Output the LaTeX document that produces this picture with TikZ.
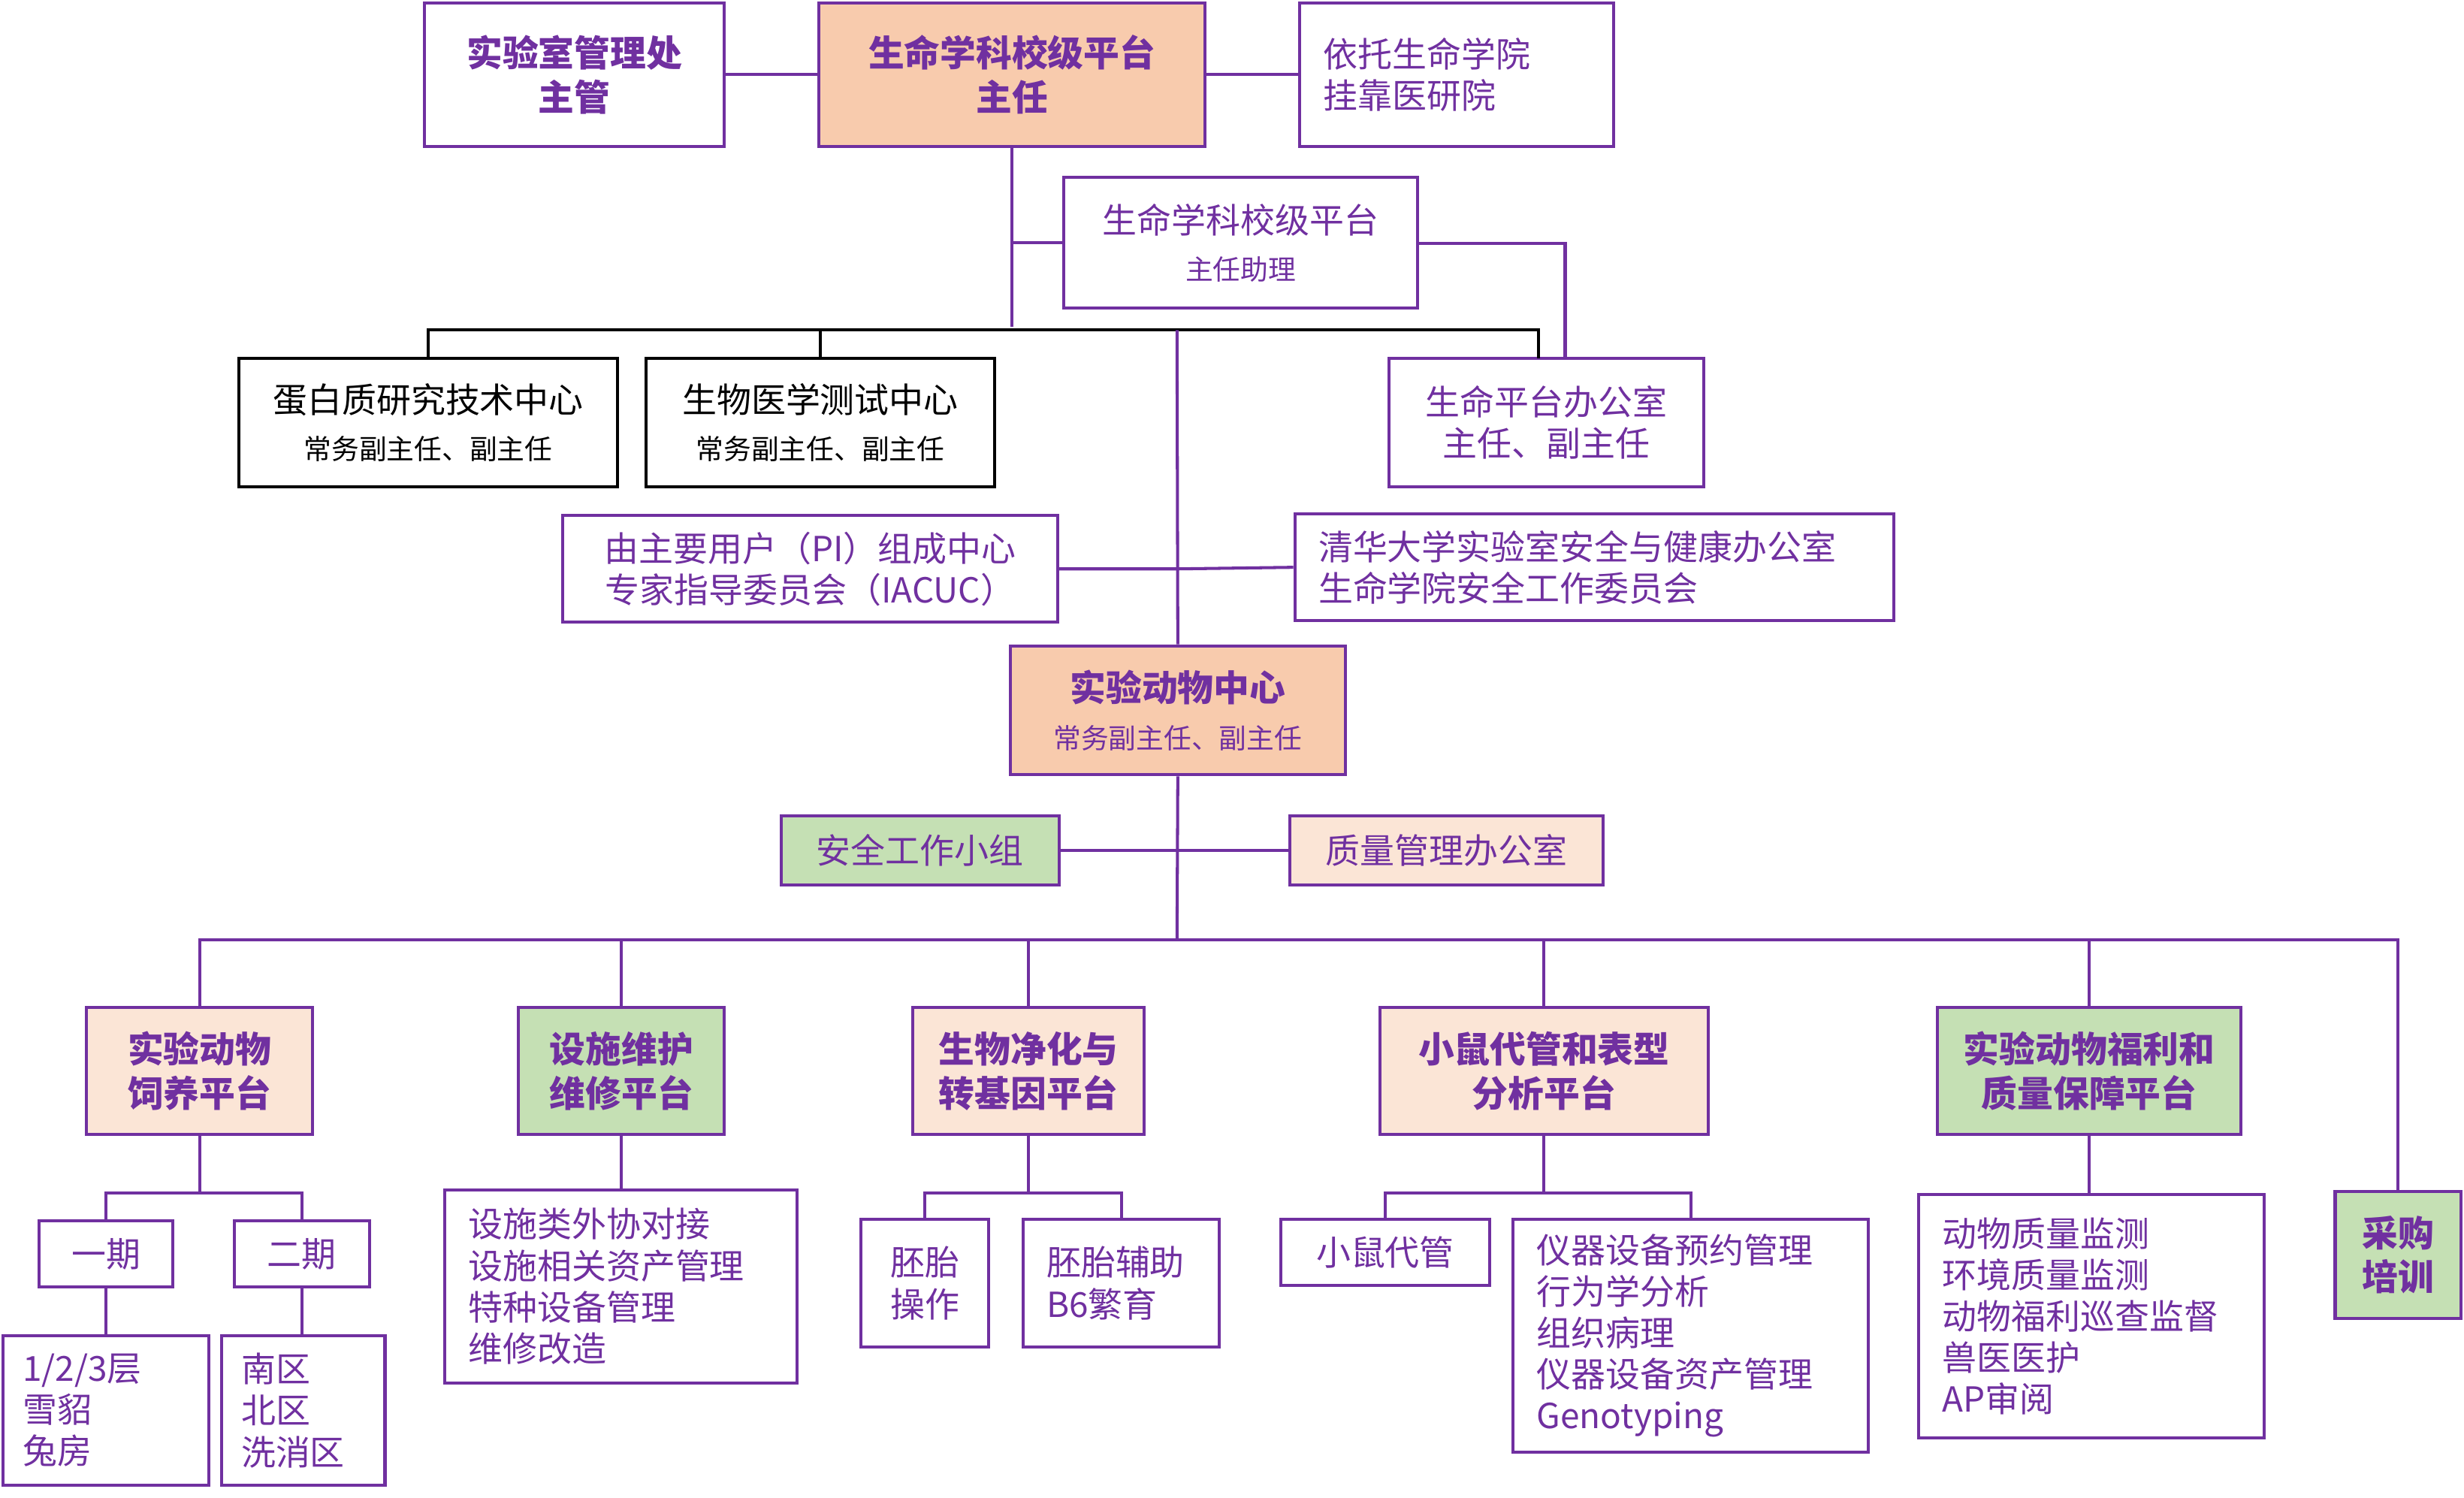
\documentclass[tikz,border=0pt]{standalone}
\usepackage{fontspec}
\newfontfamily\cjk{Noto Sans CJK SC}
\definecolor{vio}{HTML}{7030A0}
\definecolor{peach}{HTML}{F8CBAD}
\definecolor{lpeach}{HTML}{FBE5D6}
\definecolor{lgreen}{HTML}{C5E0B4}
\newcommand\bfc{\cjk\bfseries\fontsize{13}{16}\selectfont}
\tikzset{
  box/.style={draw=vio,text=vio,line width=1.1pt,fill=white,inner sep=0pt,font=\cjk\fontsize{12.5}{15}\selectfont},
  bbox/.style={box,draw=black,text=black},
  tbf/.style={font=\bfc},
  line/.style={draw=vio,line width=1.1pt},
  bline/.style={draw=black,line width=1.1pt}
}
% box from corner (x1,y1) to (x2,y2) in reference pixels
\newcommand\bx[7]{\node[#6,minimum width={(#4-#2)*0.02cm},minimum height={(#5-#3)*0.02cm}]
  (#1) at ({(#2+#4)/2},{(#3+#5)/2}) {#7};}
\newcommand\lbx[7]{\node[box,align=left,text width={(#4-#2)*0.02cm-0.6cm},minimum height={(#5-#3)*0.02cm},inner xsep=0.3cm,#6]
  (#1) at ({(#2+#4)/2},{(#3+#5)/2}) {#7};}
\newcommand\sm{\fontsize{10}{13}\selectfont}
\begin{document}
\begin{tikzpicture}[x=0.02cm,y=-0.02cm]
\useasboundingbox (0,0) rectangle (1568,953);
% top
\bx{mgmt}{270}{2}{461}{93}{box,tbf,align=center}{实验室管理处\\主管}
\bx{head}{521}{2}{767}{93}{box,tbf,fill=peach,align=center}{生命学科校级平台\\主任}
\lbx{host}{827}{2}{1027}{93}{}{依托生命学院\\挂靠医研院}
\bx{asst}{677}{113}{902}{196}{box,align=center}{生命学科校级平台\\[2pt]{\sm 主任助理}}
\bx{prot}{152}{228}{393}{310}{bbox,align=center}{蛋白质研究技术中心\\[2pt]{\sm 常务副主任、副主任}}
\bx{bmed}{411}{228}{633}{310}{bbox,align=center}{生物医学测试中心\\[2pt]{\sm 常务副主任、副主任}}
\bx{offc}{884}{228}{1084}{310}{box,align=center}{生命平台办公室\\主任、副主任}
\bx{iacuc}{358}{328}{673}{396}{box,align=center}{由主要用户（PI）组成中心\\专家指导委员会（IACUC）}
\lbx{safe}{824}{327}{1205}{395}{}{清华大学实验室安全与健康办公室\\生命学院安全工作委员会}
\bx{lac}{643}{411}{856}{493}{box,fill=peach,align=center}{{\bfc 实验动物中心}\\[2pt]{\sm 常务副主任、副主任}}
\bx{grp}{497}{519}{674}{563}{box,fill=lgreen}{安全工作小组}
\bx{qual}{821}{519}{1020}{563}{box,fill=lpeach}{质量管理办公室}
% platforms
\bx{feed}{55}{641}{199}{722}{box,tbf,fill=lpeach,align=center}{实验动物\\饲养平台}
\bx{fac}{330}{641}{461}{722}{box,tbf,fill=lgreen,align=center}{设施维护\\维修平台}
\bx{bio}{581}{641}{728}{722}{box,tbf,fill=lpeach,align=center}{生物净化与\\转基因平台}
\bx{mice}{878}{641}{1087}{722}{box,tbf,fill=lpeach,align=center}{小鼠代管和表型\\分析平台}
\bx{welf}{1233}{641}{1426}{722}{box,tbf,fill=lgreen,align=center}{实验动物福利和\\质量保障平台}
\bx{buy}{1486}{758}{1566}{839}{box,tbf,fill=lgreen,align=center}{采购\\培训}
% leaves
\bx{ph1}{25}{777}{110}{819}{box}{一期}
\bx{ph2}{149}{777}{235}{819}{box}{二期}
\lbx{fl}{2}{850}{133}{945}{inner xsep=0.25cm,text width=2.12cm}{1/2/3层\\雪貂\\兔房}
\lbx{zone}{141}{850}{245}{945}{inner xsep=0.25cm,text width=1.58cm}{南区\\北区\\洗消区}
\lbx{facl}{283}{757}{507}{880}{}{设施类外协对接\\设施相关资产管理\\特种设备管理\\维修改造}
\bx{emb}{548}{776}{629}{857}{box,align=center}{胚胎\\操作}
\lbx{b6}{651}{776}{776}{857}{}{胚胎辅助\\B6繁育}
\bx{keep}{815}{776}{948}{818}{box}{小鼠代管}
\lbx{inst}{963}{776}{1189}{924}{}{仪器设备预约管理\\行为学分析\\组织病理\\仪器设备资产管理\\Genotyping}
\lbx{qc}{1221}{760}{1441}{915}{}{动物质量监测\\环境质量监测\\动物福利巡查监督\\兽医医护\\AP审阅}
% connectors
\coordinate (j1) at (644,208);
\coordinate (j2) at (749,210);
\coordinate (j3) at (749,598);
\coordinate (a1) at (996,155);
\draw[line] (mgmt.east) -- (head.west) (head.east) -- (host.west);
\draw[line] (head.south) -- (j1);
\draw[line] (asst.west) -| (head.south);
\draw[line] (asst.east |- a1) -- (a1) -- (a1 |- offc.north);
\draw[bline] (prot.north) |- (j2) (bmed.north) -- (bmed.north |- j2) (j2) -| (979,228);
\draw[line] (j2) -- (lac.north);
\draw[line] (iacuc.east) -- (iacuc.east -| lac.north) -- (safe.west);
\draw[line] (lac.south) -- (j3);
\draw[line] (grp.east) -- (grp.east -| j3) -- (qual.west);
\draw[line] (feed.north) |- (j3) -| (buy.north);
\foreach \n in {fac,bio,mice,welf}{\draw[line] (\n.north) -- (\n.north |- j3);}
\draw[line] (feed.south) -- ++(0,36) coordinate (f1);
\draw[line] (ph1.north) |- (f1) -| (ph2.north);
\draw[line] (ph1.south) -- (ph1.south |- fl.north) (ph2.south) -- (ph2.south |- zone.north);
\draw[line] (fac.south) -- (facl.north -| fac.south);
\draw[line] (bio.south) -- ++(0,36) coordinate (f3);
\draw[line] (emb.north) |- (f3) -| (b6.north);
\draw[line] (mice.south) -- ++(0,36) coordinate (f4);
\draw[line] (keep.north) |- (f4) -| (inst.north);
\draw[line] (welf.south) -- (qc.north -| welf.south);
\end{tikzpicture}
\end{document}
